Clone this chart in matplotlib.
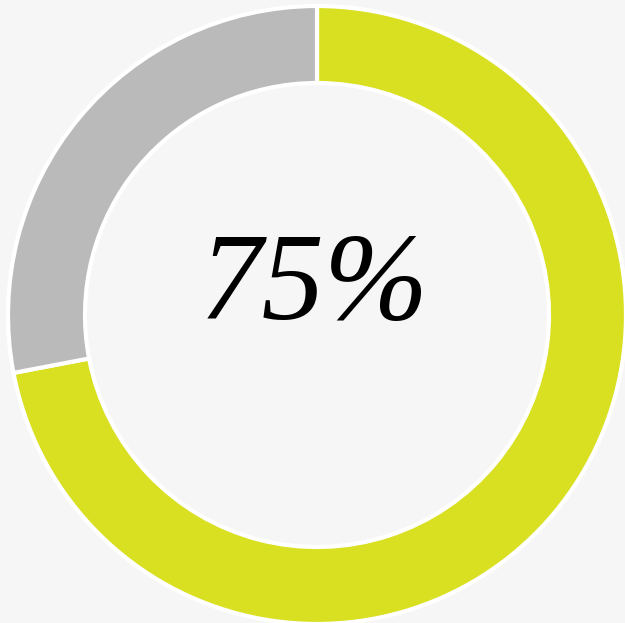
import matplotlib.pyplot as plt

plt.rcParams['figure.facecolor'] = '#f6f6f6'
plt.rcParams['axes.facecolor'] = '#f6f6f6'
plt.rcParams['savefig.facecolor'] = '#f6f6f6'

# donut shares as drawn (filled part, remainder)
labels = ['filled', 'rest']
values = [72, 28]
colors = ['#d9e021', '#bababa']
center_text = '75%'

fig = plt.figure(figsize=(6.25, 6.23), dpi=100)
ax = fig.add_axes([0, 0, 1, 1])

# pixel-like coords, y measured from the bottom
ax.pie(
    values,
    colors=colors,
    startangle=90,
    counterclock=False,
    center=(317, 308),
    radius=309,
    wedgeprops=dict(width=77, edgecolor='white', linewidth=3),
    frame=True
)
ax.set_xlim(0, 625)
ax.set_ylim(0, 623)
ax.set_aspect('equal')
ax.axis('off')

ax.text(
    314, 334,
    center_text,
    ha='center',
    va='center',
    fontsize=90,
    fontstyle='italic',
    family='Liberation Serif',
    color='black'
)

plt.savefig('out.png', dpi=100)
plt.close()
